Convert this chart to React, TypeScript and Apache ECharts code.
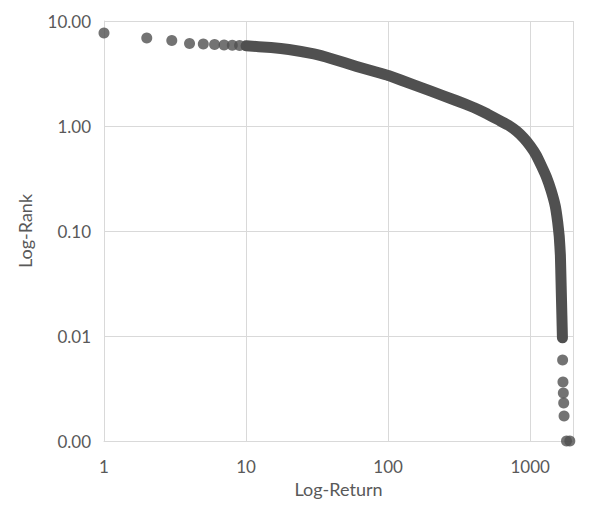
import React, { useEffect, useRef } from "react";
import * as echarts from "echarts";

// Discrete leading points (rank 1..9)
const headX = [1, 2, 3, 4, 5, 6, 7, 8, 9];
const headY = [7.69, 6.89, 6.52, 6.11, 6.04, 5.97, 5.91, 5.88, 5.85];

// Dense middle part
const curveX = [10, 15, 20, 30, 40, 60, 80, 100, 150, 200, 300, 400, 500, 600, 700, 800, 900, 1000, 1100, 1200, 1300, 1400, 1500, 1560, 1600, 1630, 1650, 1670, 1685];
const curveY = [5.8, 5.59, 5.35, 4.85, 4.37, 3.69, 3.3, 3.03, 2.48, 2.15, 1.75, 1.5, 1.3, 1.14, 1.02, 0.895, 0.769, 0.645, 0.53, 0.416, 0.327, 0.245, 0.173, 0.122, 0.089, 0.059, 0.0306, 0.0158, 0.0096];

// Discrete tail points
const tailX = [1690, 1700, 1710, 1720, 1730, 1800, 1900];
const tailY = [0.0059, 0.00365, 0.00286, 0.0023, 0.00173, 0.001, 0.001];

const xTitle = "Log-Return";
const yTitle = "Log-Rank";

const MARK = "#505050";
const GRID = "#d9d9d9";
const TEXT = "#595959";
const FONT = "Lato";

export default function App() {
  const ref = useRef<HTMLDivElement>(null);
  useEffect(() => {
    if (!ref.current) return;
    const chart = echarts.init(ref.current, undefined, { renderer: "svg" });
    const pts = headX.map((x, i) => [x, headY[i]]).concat(tailX.map((x, i) => [x, tailY[i]]));
    const line = curveX.map((x, i) => [x, curveY[i]]);
    chart.setOption({
      animation: false,
      backgroundColor: "#ffffff",
      grid: { left: 104, top: 21, right: 16, bottom: 67, containLabel: false },
      xAxis: {
        type: "log",
        logBase: 10,
        min: 1,
        max: 2000,
        name: xTitle,
        nameLocation: "middle",
        nameGap: 38,
        nameTextStyle: { color: TEXT, fontSize: 18, fontFamily: FONT },
        axisLine: { show: true, lineStyle: { color: GRID, width: 1 } },
        axisTick: { show: false },
        axisLabel: {
          color: TEXT,
          fontSize: 17,
          fontFamily: FONT,
          margin: 17,
          showMaxLabel: false,
          formatter: (v: number) => String(Math.round(v)),
        },
        splitLine: { show: true, lineStyle: { color: GRID, width: 1 } },
        minorTick: { show: false },
      },
      yAxis: {
        type: "log",
        logBase: 10,
        min: 0.001,
        max: 10,
        name: yTitle,
        nameLocation: "middle",
        nameGap: 70,
        nameTextStyle: { color: TEXT, fontSize: 18, fontFamily: FONT },
        axisLine: { show: true, lineStyle: { color: GRID, width: 1 } },
        axisTick: { show: false },
        axisLabel: {
          color: TEXT,
          fontSize: 17,
          fontFamily: FONT,
          margin: 13,
          formatter: (v: number) => v.toFixed(2),
        },
        splitLine: { show: true, lineStyle: { color: GRID, width: 1 } },
      },
      series: [
        {
          type: "line",
          data: line,
          showSymbol: false,
          symbol: "none",
          smooth: 0.1,
          clip: false,
          lineStyle: { color: MARK, width: 11, cap: "round", join: "round" },
          z: 3,
        },
        {
          type: "scatter",
          data: pts,
          symbol: "circle",
          symbolSize: 11,
          clip: false,
          itemStyle: { color: MARK },
          z: 4,
        },
      ],
    });
    return () => chart.dispose();
  }, []);
  return <div ref={ref} style={{ width: 589, height: 508, margin: -8 }} />;
}
